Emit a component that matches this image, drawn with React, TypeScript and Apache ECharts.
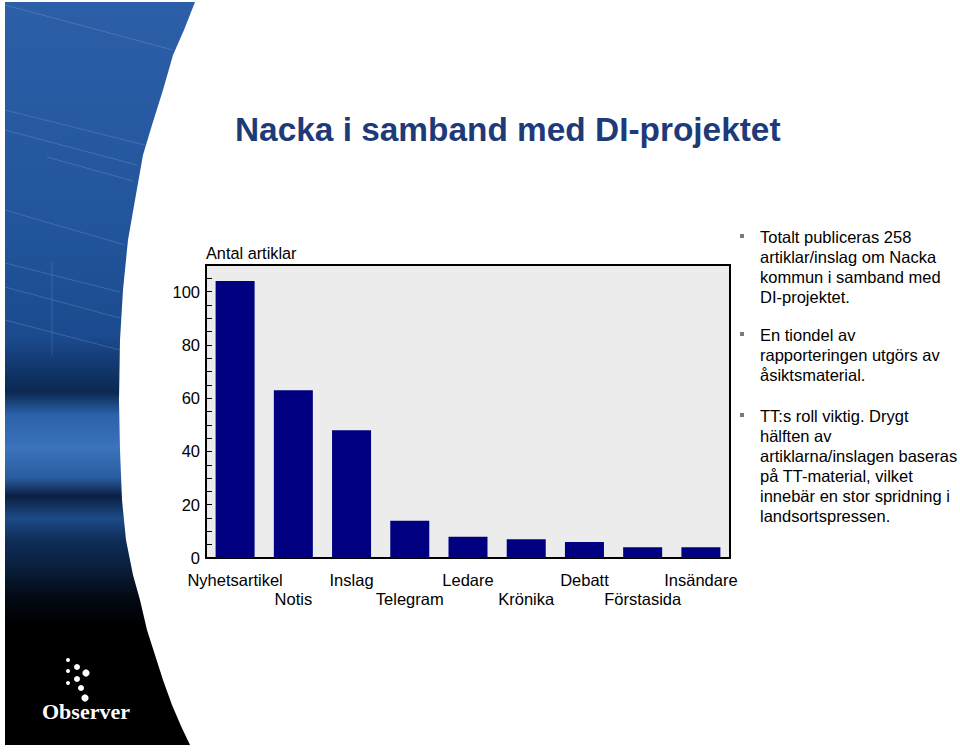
import React, { useEffect, useRef } from "react";
import * as echarts from "echarts";

const categories = ["Nyhetsartikel", "Notis", "Inslag", "Telegram", "Ledare", "Krönika", "Debatt", "Förstasida", "Insändare"];
const values = [104, 63, 48, 14, 8, 7, 6, 4, 4];
const yTickLabels = [0, 20, 40, 60, 80, 100];
const titleText = "Nacka i samband med DI-projektet";
const axisTitle = "Antal artiklar";
const bulletParagraphs = [
  ["Totalt publiceras 258", "artiklar/inslag om Nacka", "kommun i samband med", "DI-projektet."],
  ["En tiondel av", "rapporteringen utgörs av", "åsiktsmaterial."],
  ["TT:s roll viktig. Drygt", "hälften av", "artiklarna/inslagen baseras", "på TT-material, vilket", "innebär en stor spridning i", "landsortspressen."],
];
const logoText = "Observer";

const SANS = "'Liberation Sans', Arial, Helvetica, sans-serif";
const SERIF = "'Liberation Serif', 'Times New Roman', serif";

function buildGraphic() {
  const edge: number[][] = [
    [195, 2], [184, 30], [173, 55], [163, 90], [152, 125], [143, 155], [135, 200], [128, 240],
    [123, 290], [120, 340], [119, 400], [120, 450], [122, 500], [126, 540], [133, 575],
    [140, 600], [147, 630], [155, 655], [163, 680], [172, 705], [181, 726], [190, 745],
  ];
  const shape = [[5, 2], ...edge, [5, 745]];
  const fill = new echarts.graphic.LinearGradient(0, 0, 0, 1, [
    { offset: 0, color: "#2d5fa8" },
    { offset: 0.3, color: "#22559c" },
    { offset: 0.45, color: "#1b4b8e" },
    { offset: 0.49, color: "#12386e" },
    { offset: 0.525, color: "#0b2851" },
    { offset: 0.555, color: "#2a61a8" },
    { offset: 0.6, color: "#3b73bc" },
    { offset: 0.64, color: "#2b5da0" },
    { offset: 0.665, color: "#0b2042" },
    { offset: 0.695, color: "#1b4b88" },
    { offset: 0.725, color: "#0f2d58" },
    { offset: 0.76, color: "#0a1f3e" },
    { offset: 0.8, color: "#030a14" },
    { offset: 0.84, color: "#000000" },
    { offset: 1, color: "#000000" },
  ]);
  const streaks: number[][] = [
    [5, 5, 173, 50], [5, 110, 145, 145], [5, 130, 137, 165], [47, 157, 133, 181], [5, 210, 125, 245],
    [5, 263, 120, 292], [5, 287, 120, 318], [5, 320, 120, 350],
  ];
  const els: any[] = [];
  els.push({ type: "polygon", shape: { points: shape }, style: { fill }, silent: true, z: 1 });
  streaks.forEach((s) => {
    els.push({
      type: "line", shape: { x1: s[0], y1: s[1], x2: s[2], y2: s[3] },
      style: { stroke: "rgba(150,185,230,0.25)", lineWidth: 1 }, silent: true, z: 2,
    });
  });
  els.push({ type: "line", shape: { x1: 52, y1: 262, x2: 52, y2: 355 }, style: { stroke: "rgba(150,185,230,0.2)", lineWidth: 1 }, silent: true, z: 2 });

  // Observer logo
  const dots: number[][] = [[68, 660, 2], [77, 667, 3], [68, 671, 2], [86, 673, 3.6], [77, 679, 3], [68, 683, 2], [81, 688, 3], [85, 698, 3.6]];
  dots.forEach((d) => {
    els.push({ type: "circle", shape: { cx: d[0], cy: d[1], r: d[2] }, style: { fill: "#ffffff" }, silent: true, z: 3 });
  });
  els.push({
    type: "text", x: 42, y: 711, silent: true, z: 3,
    style: { text: logoText, fill: "#ffffff", font: `bold 22px ${SERIF}`, verticalAlign: "middle", align: "left" },
  });

  // Title
  els.push({
    type: "text", x: 235, y: 129, silent: true, z: 3,
    style: { text: titleText, fill: "#1e3a78", font: `bold 33.4px ${SANS}`, verticalAlign: "middle", align: "left" },
  });

  // Axis title
  els.push({
    type: "text", x: 206, y: 253, silent: true, z: 3,
    style: { text: axisTitle, fill: "#000000", font: `16.3px ${SANS}`, verticalAlign: "middle", align: "left" },
  });

  // Bullets
  const paraTops = [227, 325, 406];
  bulletParagraphs.forEach((lines, i) => {
    const top = paraTops[i];
    els.push({ type: "rect", shape: { x: 740, y: top + 7, width: 4, height: 4 }, style: { fill: "#7a7a7a" }, silent: true, z: 3 });
    els.push({
      type: "text", x: 760, y: top, silent: true, z: 3,
      style: { text: lines.join("\n"), fill: "#000000", font: `16.5px ${SANS}`, lineHeight: 20, verticalAlign: "top", align: "left" },
    });
  });
  return els;
}

export default function App() {
  const ref = useRef<HTMLDivElement>(null);
  useEffect(() => {
    if (!ref.current) return;
    const chart = echarts.init(ref.current, undefined, { renderer: "svg" });
    chart.setOption({
      animation: false,
      backgroundColor: "#ffffff",
      grid: {
        left: 206, top: 265, width: 524, height: 293, show: true,
        backgroundColor: "#ececec", borderColor: "#000000", borderWidth: 2,
      },
      xAxis: {
        type: "category",
        data: categories,
        axisLine: { show: true, lineStyle: { color: "#000000", width: 2 } },
        axisTick: { show: false },
        axisLabel: {
          interval: 0, color: "#000000", fontSize: 16.5, fontFamily: SANS, lineHeight: 19, margin: 12,
          formatter: (v: string, i: number) => (i % 2 === 1 ? "\n" + v : v),
        },
      },
      yAxis: {
        type: "value", min: 0, max: 110, interval: 5,
        splitLine: { show: false },
        axisLine: { show: true, lineStyle: { color: "#000000", width: 2 } },
        axisTick: { show: true, inside: true, length: 6, lineStyle: { color: "#000000", width: 1 } },
        axisLabel: {
          color: "#000000", fontSize: 16.5, fontFamily: SANS, margin: 6,
          formatter: (v: number) => (yTickLabels.includes(v) ? String(v) : ""),
        },
      },
      series: [
        {
          type: "bar", data: values, barCategoryGap: "33%",
          itemStyle: { color: "#000080" }, silent: true,
        },
      ],
      graphic: buildGraphic(),
    });
    return () => chart.dispose();
  }, []);
  return (
    <div
      ref={ref}
      style={{ position: "fixed", left: 0, top: 0, width: 960, height: 756, background: "#ffffff" }}
    />
  );
}
